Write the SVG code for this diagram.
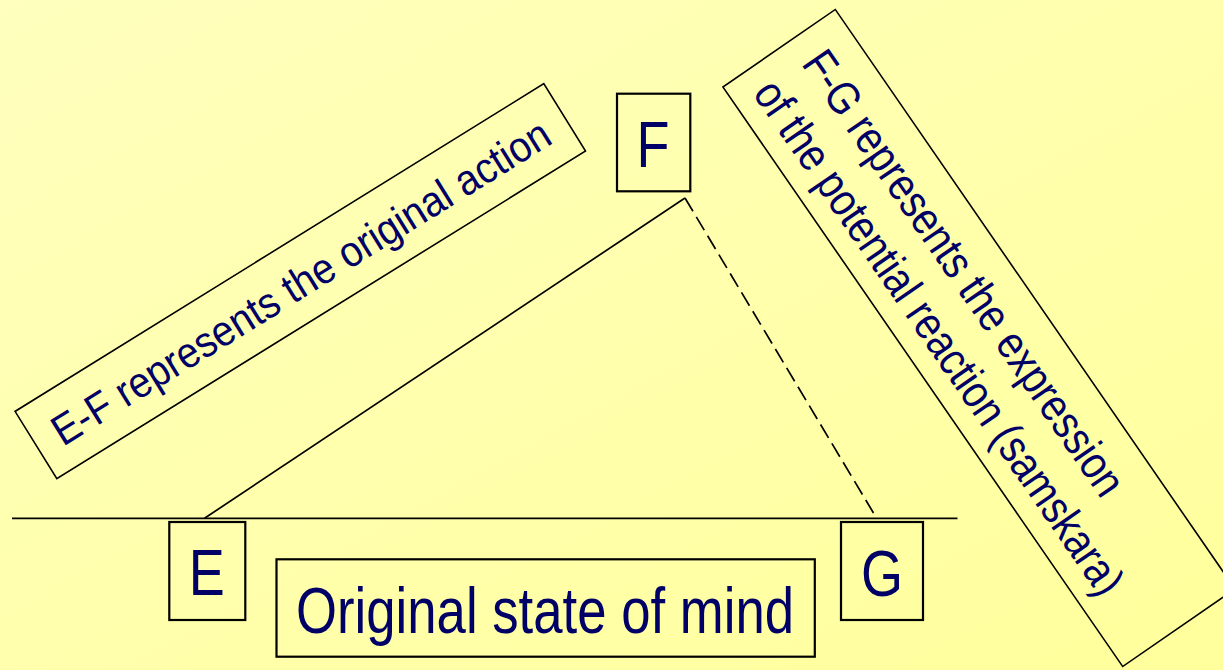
<svg xmlns="http://www.w3.org/2000/svg" width="1223" height="670" viewBox="0 0 1223 670">
  <defs>
    <linearGradient id="bg" x1="0" y1="0" x2="1" y2="1">
      <stop offset="0" stop-color="#FFFFBE"/>
      <stop offset="1" stop-color="#FFFF9C"/>
    </linearGradient>
  </defs>
  <style>
    .box { fill: none; stroke: #000; stroke-width: 2.2; }
    .tbox { fill: none; stroke: #000; stroke-width: 1.6; }
    .lbl { font-family: "Liberation Sans", Arial, sans-serif; fill: #000066; }
    .conn { stroke: #000; stroke-width: 1.7; fill: none; }
  </style>
  <rect x="0" y="0" width="1223" height="670" fill="url(#bg)"/>

  <g id="connectors">
    <line class="conn" x1="12" y1="518.3" x2="957.5" y2="518.3"/>
    <line class="conn" x1="204.5" y1="518.3" x2="685" y2="198"/>
    <line class="conn" x1="685" y1="198" x2="873.5" y2="513" stroke-width="1.9" stroke-dasharray="15.5 6.5"/>
  </g>

  <g id="node-EF-label" transform="translate(300.3,281.2) rotate(-31.79)">
    <rect class="tbox" x="-311" y="-39.6" width="622" height="79.2"/>
    <text class="lbl" x="-289" y="16" font-size="43" textLength="578" lengthAdjust="spacingAndGlyphs">E-F represents the original action</text>
  </g>

  <g id="node-F">
    <rect class="box" x="617" y="93.7" width="73.3" height="97.6"/>
    <text class="lbl" x="653" y="167.3" font-size="64" text-anchor="middle" textLength="33" lengthAdjust="spacingAndGlyphs">F</text>
  </g>

  <g id="node-FG-label" transform="translate(979,338) rotate(55.4)">
    <rect class="tbox" x="-352" y="-68.25" width="704" height="136.5"/>
    <text class="lbl" x="-327" y="-9" font-size="46" textLength="530" lengthAdjust="spacingAndGlyphs">F-G represents the expression</text>
    <text class="lbl" x="-330" y="48" font-size="46" textLength="614" lengthAdjust="spacingAndGlyphs">of the potential reaction (samskara)</text>
  </g>

  <g id="node-E">
    <rect class="box" x="169.3" y="522" width="76" height="98"/>
    <text class="lbl" x="206.7" y="595.3" font-size="64" text-anchor="middle" textLength="36" lengthAdjust="spacingAndGlyphs">E</text>
  </g>

  <g id="node-G">
    <rect class="box" x="841" y="522" width="82" height="98"/>
    <text class="lbl" x="882" y="595.5" font-size="64" text-anchor="middle" textLength="42" lengthAdjust="spacingAndGlyphs">G</text>
  </g>

  <g id="node-original">
    <rect class="box" x="276.5" y="559.3" width="538.3" height="97.4"/>
    <text class="lbl" x="296" y="633.3" font-size="64" textLength="498" lengthAdjust="spacingAndGlyphs">Original state of mind</text>
  </g>
</svg>
